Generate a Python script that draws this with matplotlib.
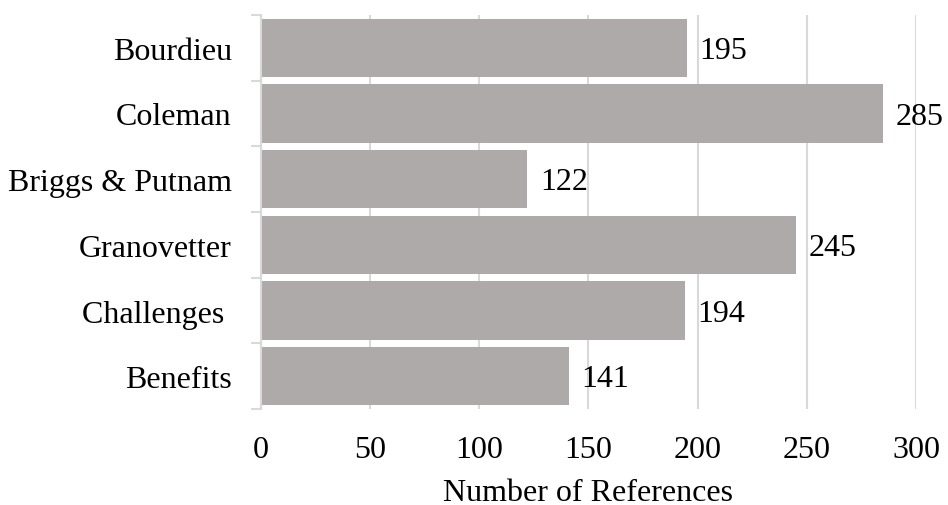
import matplotlib
matplotlib.use("Agg")
import matplotlib.pyplot as plt
import numpy as np

categories = ["Bourdieu", "Coleman", "Briggs & Putnam", "Granovetter", "Challenges ", "Benefits"]
values = [195, 285, 122, 245, 194, 141]
x_ticks = [0, 50, 100, 150, 200, 250, 300]
x_label = "Number of References"

plt.rcParams["font.family"] = ["Liberation Serif", "DejaVu Serif"]

bar_color = "#AEAAA9"
grid_color = "#D9D9D9"
fs = 23

fig = plt.figure(figsize=(9.48, 5.06), dpi=100)
ax = fig.add_axes([0.2753, 0.1897, 0.9662 - 0.2753, 0.9684 - 0.1897])

y = np.arange(len(categories))
ax.barh(y, values, height=0.89, color=bar_color, zorder=2)

for yi, v in zip(y, values):
    ax.annotate(str(v), (v, yi), xytext=(9, -2), textcoords="offset points",
                va="center", ha="left", fontsize=fs, color="black")

ax.set_xlim(0, 300)
ax.set_ylim(len(categories) - 0.5, -0.5)
ax.set_xticks(x_ticks)
ax.set_xticklabels([str(t) for t in x_ticks])
ax.set_yticks(y)
ax.set_yticklabels(categories)
ax.set_yticks(np.arange(-0.5, len(categories), 1.0), minor=True)

ax.tick_params(axis="x", length=0, pad=19, labelsize=fs)
ax.tick_params(axis="y", which="major", length=0, pad=21, labelsize=fs)
ax.tick_params(axis="y", which="minor", length=7.2, width=1.5, color=grid_color)

ax.grid(axis="x", color=grid_color, linewidth=1.5, zorder=0)
ax.set_axisbelow(True)

for side in ["top", "right", "bottom"]:
    ax.spines[side].set_visible(False)
ax.spines["left"].set_color(grid_color)
ax.spines["left"].set_linewidth(1.5)
ax.spines["left"].set_zorder(3)

ax.set_xlabel(x_label, fontsize=fs, labelpad=9.5)

fig.savefig("out.png", dpi=100)
